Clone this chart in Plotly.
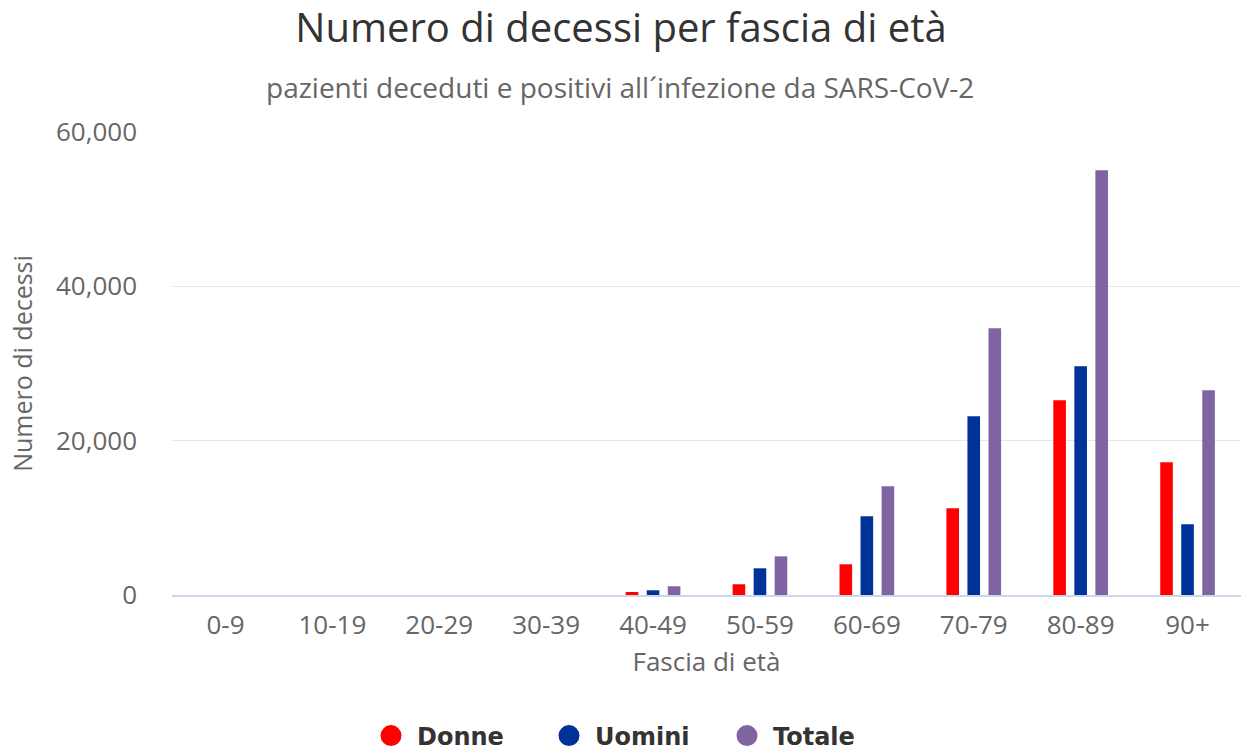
import plotly.graph_objects as go

categories = ["0-9", "10-19", "20-29", "30-39", "40-49", "50-59", "60-69", "70-79", "80-89", "90+"]
donne = [0, 0, 0, 0, 390, 1390, 3980, 11230, 25230, 17200]
uomini = [0, 0, 0, 0, 610, 3460, 10200, 23160, 29640, 9160]
totale = [0, 0, 0, 0, 1130, 5010, 14090, 34560, 55040, 26530]
series_names = ["Donne", "Uomini", "Totale"]
series_colors = ["#ff0000", "#003399", "#8064a2"]
y_ticks = [0, 20000, 40000, 60000]
y_tick_text = ["0", "20,000", "40,000", "60,000"]

FONT = "Open Sans"
W, H = 1242, 751
L, R, T, B = 172, 1, 132, 156
PW, PH = W - L - R, H - T - B


def px_x(x):
    return (x - L) / PW


def px_y(y):
    return (H - B - y) / PH


fig = go.Figure()
for name, vals, col in zip(series_names, [donne, uomini, totale], series_colors):
    fig.add_trace(go.Bar(x=categories, y=vals, name=name, marker=dict(color=col, line=dict(width=0)),
                         showlegend=False))
for name, col in zip(series_names, series_colors):
    fig.add_trace(go.Scatter(x=[None], y=[None], mode="markers", name=name,
                             marker=dict(color=col, size=16, symbol="circle",
                                         line=dict(color=col, width=5))))

fig.update_layout(
    width=W, height=H,
    paper_bgcolor="white", plot_bgcolor="white",
    margin=dict(l=L, r=R, t=T, b=B, autoexpand=False),
    barmode="group", bargap=0.41, bargroupgap=0.4,
    title=dict(text="Numero di decessi per fascia di età", x=0.5, xanchor="center",
               y=1 - 28 / H, yanchor="middle", yref="container",
               font=dict(family=FONT, size=40, color="#333333")),
    annotations=[dict(text="pazienti deceduti e positivi all´infezione da SARS-CoV-2",
                      xref="paper", yref="paper", x=px_x(620), y=px_y(87),
                      xanchor="center", yanchor="middle", showarrow=False,
                      font=dict(family=FONT, size=28, color="#666666"))],
    xaxis=dict(title=dict(text="Fascia di età", font=dict(family=FONT, size=26, color="#666666"), standoff=12),
               tickfont=dict(family=FONT, size=26, color="#666666"),
               showgrid=False, showline=True, linecolor="#ccd6eb", linewidth=2, ticks="",
               ticklabelstandoff=6, automargin=False, fixedrange=True),
    yaxis=dict(title=dict(text="Numero di decessi", font=dict(family=FONT, size=25, color="#666666"), standoff=16),
               range=[0, 60000], tickvals=y_ticks, ticktext=y_tick_text,
               tickfont=dict(family=FONT, size=26, color="#666666"),
               showgrid=True, gridcolor="#e6e6e6", gridwidth=1, zeroline=False,
               ticks="", ticklabelstandoff=34, automargin=False, fixedrange=True),
    legend=dict(orientation="h", x=px_x(632), xanchor="center", y=px_y(736), yanchor="middle",
                font=dict(family="DejaVu Sans", size=24, color="#333333", weight="bold"),
                itemsizing="trace", itemwidth=42, entrywidth=121, entrywidthmode="pixels"),
)

fig.write_html("out.html", config={"displayModeBar": False},
               post_script="document.body.style.margin='0';document.body.style.padding='0';"
                           "document.documentElement.style.overflow='hidden';")
